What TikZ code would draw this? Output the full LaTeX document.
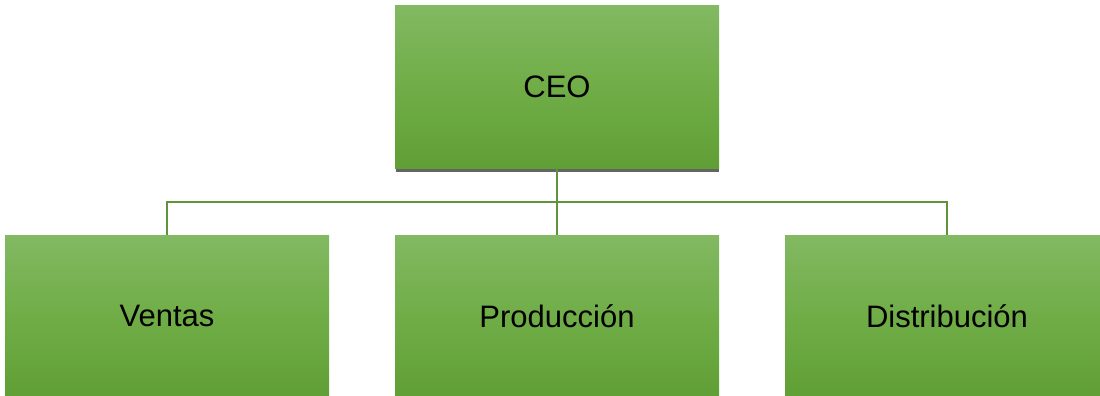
\documentclass[tikz,border=0pt]{standalone}
\usepackage{fontspec}
\setmainfont{Liberation Sans}
\definecolor{gtop}{RGB}{130,185,98}
\definecolor{gmid}{RGB}{112,173,71}
\definecolor{gbot}{RGB}{96,159,53}
\definecolor{lineg}{RGB}{96,148,58}
\definecolor{shadowc}{RGB}{100,100,100}
\tikzset{
  orgbox/.style={rectangle, minimum width=324pt, minimum height=162pt, inner sep=0pt,
    top color=gtop, bottom color=gbot, middle color=gmid, draw=none,
    font=\fontsize{31}{36}\selectfont, text=black},
  link/.style={draw=lineg, line width=2pt}
}
\begin{document}
\begin{tikzpicture}[x=1pt,y=-1pt]
\path[use as bounding box] (0,0) rectangle (1100,396);
\clip (0,0) rectangle (1100,396);
\fill[shadowc] (396,166) rectangle (719,171.5);
\node[orgbox] (ceo) at (557,87) {CEO};
\node[orgbox] (ventas) at (167,316) {Ventas};
\node[orgbox] (prod) at (557,316) {Producción};
\node[orgbox] (dist) at (947,316) {Distribución};
\coordinate (bar) at (557,201.5);
\draw[link] (ceo.south) -- (bar);
\draw[link] (ventas.north) |- (bar) -| (dist.north);
\draw[link] (bar) -- (prod.north);
\end{tikzpicture}
\end{document}
